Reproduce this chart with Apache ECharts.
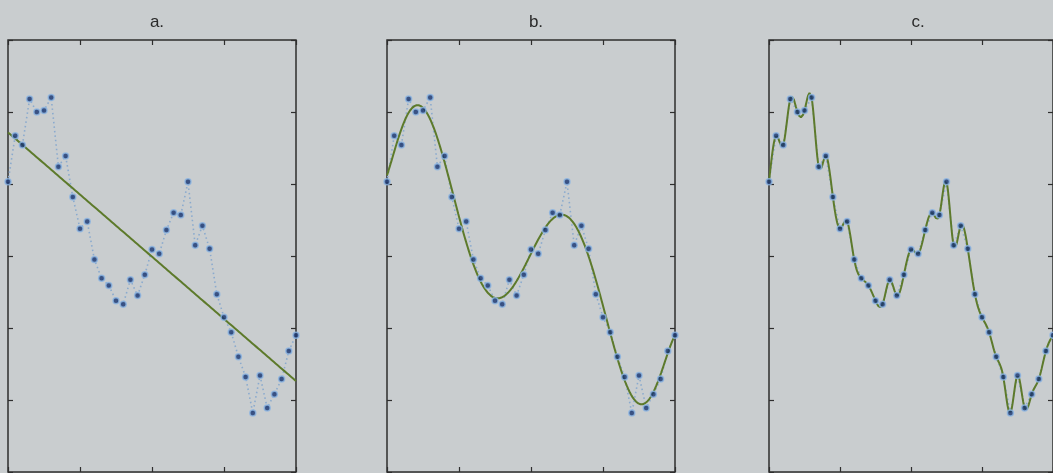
<!DOCTYPE html>
<html>
<head>
<meta charset="utf-8">
<script src="https://cdn.jsdelivr.net/npm/echarts@6/dist/echarts.min.js"></script>
<style>
  html, body { margin: 0; padding: 0; background: #c9cdcf; }
  #chart { width: 1053px; height: 473px; }
</style>
</head>
<body>
<div id="chart"></div>
<script>
// Panel titles
const panelTitles = ['a.', 'b.', 'c.'];

// Observed samples (same noisy series in every panel), indexed 0..40
const sampleIndex = [0, 1, 2, 3, 4, 5, 6, 7, 8, 9, 10, 11, 12, 13, 14, 15, 16, 17, 18, 19, 20,
  21, 22, 23, 24, 25, 26, 27, 28, 29, 30, 31, 32, 33, 34, 35, 36, 37, 38, 39, 40];
const observed = [1.03, 1.67, 1.54, 2.18, 2.00, 2.02, 2.20, 1.24, 1.39, 0.82, 0.38,
  0.48, -0.05, -0.31, -0.41, -0.62, -0.67, -0.33, -0.55, -0.26, 0.09,
  0.03, 0.36, 0.60, 0.57, 1.03, 0.15, 0.42, 0.10, -0.53, -0.85,
  -1.06, -1.40, -1.68, -2.18, -1.66, -2.11, -1.92, -1.71, -1.32, -1.10];

// Model complexity per panel: straight line, moderate polynomial, interpolating spline
const fitDegree = [1, 7, null];

// Axis ranges and tick spacing
const xRange = [0, 40], xStep = 10;
const yRange = [-3, 3], yStep = 1;

// ---- fitting helpers ----
function polyFit(xs, ys, deg) {
  const mid = (xs[0] + xs[xs.length - 1]) / 2, half = (xs[xs.length - 1] - xs[0]) / 2;
  const n = deg + 1;
  const A = Array.from({ length: n }, () => new Array(n + 1).fill(0));
  xs.forEach((x, k) => {
    const t = (x - mid) / half;
    const pw = [1];
    for (let j = 1; j < 2 * n; j++) pw.push(pw[j - 1] * t);
    for (let r = 0; r < n; r++) {
      for (let c = 0; c < n; c++) A[r][c] += pw[r + c];
      A[r][n] += pw[r] * ys[k];
    }
  });
  for (let c = 0; c < n; c++) {
    let p = c;
    for (let r = c + 1; r < n; r++) if (Math.abs(A[r][c]) > Math.abs(A[p][c])) p = r;
    [A[c], A[p]] = [A[p], A[c]];
    for (let r = 0; r < n; r++) {
      if (r === c) continue;
      const f = A[r][c] / A[c][c];
      for (let k = c; k <= n; k++) A[r][k] -= f * A[c][k];
    }
  }
  const coef = A.map((row, i) => row[n] / row[i]);
  return x => {
    const t = (x - mid) / half;
    let s = 0;
    for (let j = n - 1; j >= 0; j--) s = s * t + coef[j];
    return s;
  };
}

function naturalSpline(xs, ys) {
  const n = xs.length;
  const h = [], al = [0], l = [1], mu = [0], z = [0], c = new Array(n).fill(0), b = [], d = [];
  for (let i = 0; i < n - 1; i++) h.push(xs[i + 1] - xs[i]);
  for (let i = 1; i < n - 1; i++)
    al.push(3 / h[i] * (ys[i + 1] - ys[i]) - 3 / h[i - 1] * (ys[i] - ys[i - 1]));
  for (let i = 1; i < n - 1; i++) {
    l.push(2 * (xs[i + 1] - xs[i - 1]) - h[i - 1] * mu[i - 1]);
    mu.push(h[i] / l[i]);
    z.push((al[i] - h[i - 1] * z[i - 1]) / l[i]);
  }
  for (let j = n - 2; j >= 0; j--) {
    c[j] = (j + 1 < n - 1 ? z[j] - mu[j] * c[j + 1] : z[j]);
    b[j] = (ys[j + 1] - ys[j]) / h[j] - h[j] * (c[j + 1] + 2 * c[j]) / 3;
    d[j] = (c[j + 1] - c[j]) / (3 * h[j]);
  }
  c[n - 1] = 0;
  return x => {
    let j = Math.min(n - 2, Math.max(0, Math.floor(x - xs[0])));
    const dx = x - xs[j];
    return ys[j] + b[j] * dx + c[j] * dx * dx + d[j] * dx * dx * dx;
  };
}

function sampleCurve(fn) {
  const out = [];
  for (let k = 0; k <= 400; k++) {
    const x = xRange[0] + (xRange[1] - xRange[0]) * k / 400;
    out.push([x, fn(x)]);
  }
  return out;
}

// ---- layout / style ----
const gridLefts = [8, 387, 769];
const gridTop = 40, gridW = 288, gridH = 432;
const frameColor = '#2e2e2e';
const dotColor = '#17336f';
const haloColor = '#8db6e4';
const dottedColor = '#8aaace';
const fitColor = '#5d7a2b';

const points = sampleIndex.map((x, i) => [x, observed[i]]);

const grids = [], xAxes = [], yAxes = [], series = [], titles = [];
const tickStyle = { show: true, inside: true, length: 5, lineStyle: { color: frameColor, width: 1.2 } };
const hiddenLine = { show: false, onZero: false };

gridLefts.forEach((left, p) => {
  grids.push({ left: left, top: gridTop, width: gridW, height: gridH, show: true,
    borderColor: frameColor, borderWidth: 1.5, backgroundColor: 'transparent' });
  ['bottom', 'top'].forEach(pos => xAxes.push({
    type: 'value', gridIndex: p, position: pos, min: xRange[0], max: xRange[1], interval: xStep,
    axisLine: hiddenLine, axisLabel: { show: false }, splitLine: { show: false }, axisTick: tickStyle
  }));
  ['left', 'right'].forEach(pos => yAxes.push({
    type: 'value', gridIndex: p, position: pos, min: yRange[0], max: yRange[1], interval: yStep,
    axisLine: hiddenLine, axisLabel: { show: false }, splitLine: { show: false }, axisTick: tickStyle
  }));
  titles.push({ text: panelTitles[p], left: left + gridW / 2, top: 9, textAlign: 'center',
    textStyle: { fontFamily: 'Liberation Sans, Arial, sans-serif', fontSize: 17, fontWeight: 'normal', color: '#2a2a2a' } });

  const fn = fitDegree[p] ? polyFit(sampleIndex, observed, fitDegree[p]) : naturalSpline(sampleIndex, observed);

  series.push({
    type: 'line', xAxisIndex: 2 * p, yAxisIndex: 2 * p, data: points, symbol: 'none',
    lineStyle: { color: dottedColor, width: 1.6, type: [1.5, 3] }, z: 2, silent: true
  });
  series.push({
    type: 'line', xAxisIndex: 2 * p, yAxisIndex: 2 * p, data: sampleCurve(fn), symbol: 'none',
    lineStyle: { color: fitColor, width: 2 }, z: 3, silent: true, clip: true
  });
  series.push({
    type: 'scatter', xAxisIndex: 2 * p, yAxisIndex: 2 * p, data: points, symbolSize: 6,
    itemStyle: { color: dotColor, borderColor: haloColor, borderWidth: 1.5 }, z: 4, silent: true
  });
});

const chart = echarts.init(document.getElementById('chart'), null, { renderer: 'canvas' });
chart.setOption({
  animation: false,
  backgroundColor: '#c9cdcf',
  title: titles,
  grid: grids,
  xAxis: xAxes,
  yAxis: yAxes,
  series: series
});
</script>
</body>
</html>
